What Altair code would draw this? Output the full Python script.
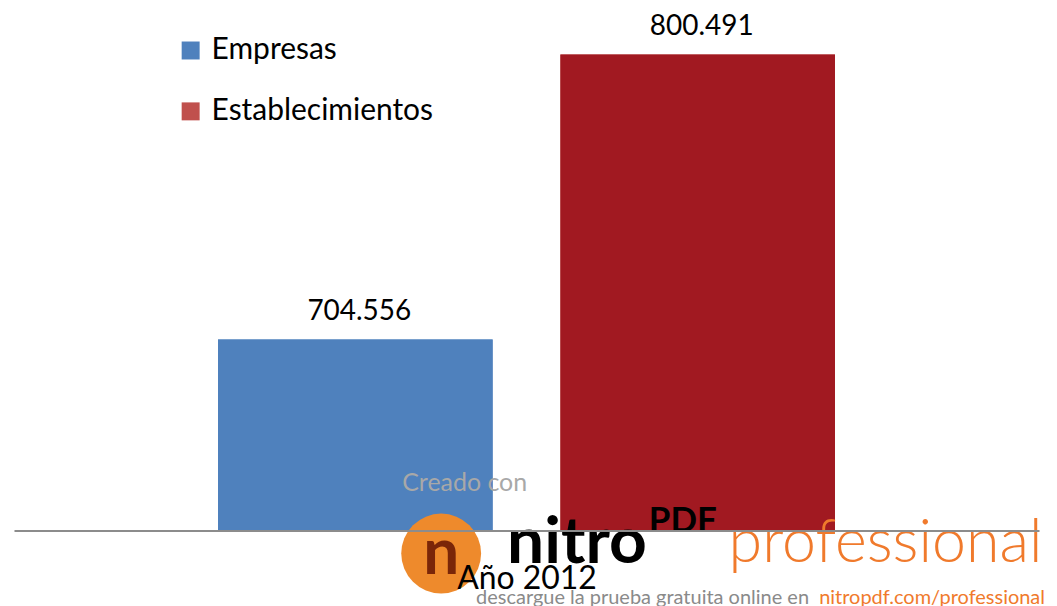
import altair as alt
import pandas as pd

# Data
categories = ["Empresas", "Establecimientos"]
values = [704.556, 800.491]
value_labels = ["704.556", "800.491"]
bar_colors = ["#4F81BD", "#A11921"]
legend_colors = ["#4F81BD", "#C0504D"]
x_title = "Año 2012"

df = pd.DataFrame({
    "cat": categories,
    "value": values,
    "label": value_labels,
    "barcolor": bar_colors,
})

FONT = "Lato"

x_enc = alt.X(
    "cat:N",
    sort=categories,
    scale=alt.Scale(paddingInner=0.198, paddingOuter=0.596),
    axis=alt.Axis(
        title=x_title, labels=False, ticks=False,
        domainColor="#8C8C8C", domainWidth=2,
        titleFont=FONT, titleFontSize=32, titleFontWeight="normal",
        titleColor="#000000", titlePadding=33, zindex=1,
    ),
)
y_enc = alt.Y("value:Q", scale=alt.Scale(domain=[640.2, 816], zero=False, nice=False, clamp=True), axis=None)

legend_bars = alt.Chart(df).mark_bar().encode(
    x=x_enc, y=y_enc,
    color=alt.Color(
        "cat:N",
        scale=alt.Scale(domain=categories, range=legend_colors),
        legend=alt.Legend(
            title=None, orient="none", legendX=162, legendY=27,
            symbolType="square", symbolSize=324, symbolStrokeWidth=0,
            labelFont=FONT, labelFontSize=30, labelColor="#000000",
            labelOffset=6, rowPadding=31, labelLimit=400,
        ),
    ),
)

bars = alt.Chart(df).mark_bar().encode(
    x=x_enc, y=y_enc,
    color=alt.Color("barcolor:N", scale=None),
)

labels = alt.Chart(df).mark_text(
    font=FONT, fontSize=28, baseline="alphabetic", dy=-20, dx=4, color="#000000"
).encode(x=x_enc, y=y_enc, text="label:N")

# Watermark overlay (decoration from the source image)
wm = pd.DataFrame({"k": [0]})
def wtext(txt, x, y, size, color, weight="normal", align="left", baseline="alphabetic"):
    return alt.Chart(wm).mark_text(
        text=txt, font=FONT, fontSize=size, color=color, fontWeight=weight,
        align=align, baseline=baseline,
    ).encode(x=alt.value(x), y=alt.value(y))

logo = alt.Chart(wm).mark_point(
    shape="circle", filled=True, size=6400, color="#EE8A2C", opacity=1
).encode(x=alt.value(428), y=alt.value(546))
logo_n = wtext("n", 428, 567, 64, "#7A2608", weight="bold", align="center")

watermark = alt.layer(
    wtext("Creado con", 389, 483, 25, "#A8A8A8"),
    logo, logo_n,
    wtext("nitro", 494, 555, 66, "#000000", weight="bold"),
    wtext("PDF", 636, 524, 35, "#000000", weight="bold"),
    wtext("professional", 716, 554, 61, "#F07A2C", weight=300),
    wtext("descargue la prueba gratuita online en", 463, 597, 20, "#8A8A8A"),
    wtext("nitropdf.com/professional", 1033, 597, 20, "#F07A2C", align="right"),
)

chart = alt.layer(legend_bars, bars, labels, watermark).resolve_scale(
    color="independent"
).properties(
    width=1027, height=523,
    autosize=alt.AutoSizeParams(type="none"),
    padding={"left": 6, "top": 0, "right": 10, "bottom": 75},
).configure_view(stroke=None)

chart.save("out.html", embed_options={"renderer": "svg", "actions": False})
